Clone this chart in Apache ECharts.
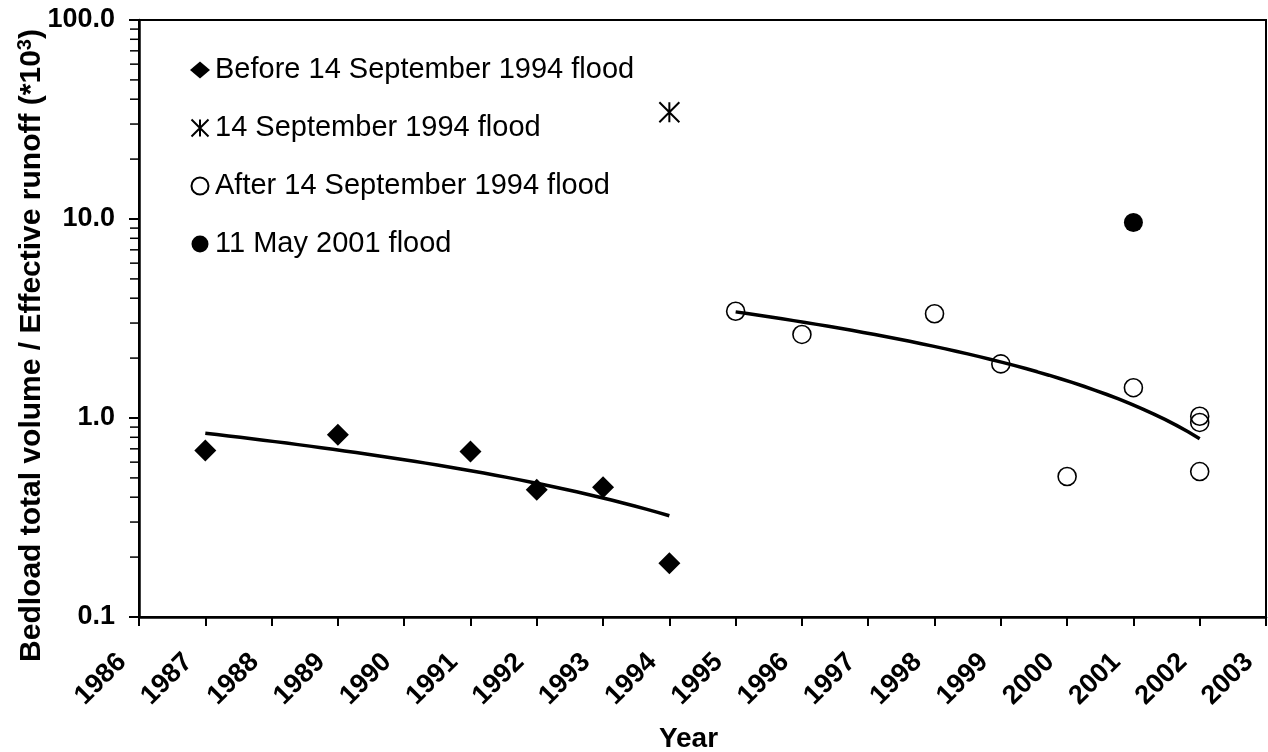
<!DOCTYPE html>
<html>
<head>
<meta charset="utf-8">
<script src="https://cdn.jsdelivr.net/npm/echarts@6/dist/echarts.min.js"></script>
<style>
html,body{margin:0;padding:0;background:#fff;}
#chart{width:1268px;height:752px;}
</style>
</head>
<body>
<div id="chart"></div>
<script>
// ---- data ----
const beforeYears = [1987, 1989, 1991, 1992, 1993, 1994];
const beforeValues = [0.687, 0.824, 0.679, 0.436, 0.449, 0.186];

const floodYears = [1994];
const floodValues = [34.4];

const afterYears = [1995, 1996, 1998, 1999, 2000, 2001, 2002, 2002, 2002];
const afterValues = [3.44, 2.63, 3.34, 1.87, 0.508, 1.42, 1.02, 0.95, 0.538];

const may2001Years = [2001];
const may2001Values = [9.6];

const seriesNames = [
  'Before 14 September 1994 flood',
  '14 September 1994 flood',
  'After 14 September 1994 flood',
  '11 May 2001 flood'
];
const yTickLabels = ['0.1', '1.0', '10.0', '100.0'];
const minorTickValues = [0.2,0.3,0.4,0.5,0.6,0.7,0.8,0.9,2,3,4,5,6,7,8,9,20,30,40,50,60,70,80,90];

// ---- helpers ----
function pairs(xs, ys) { return xs.map((x, i) => [x, ys[i]]); }
// least-squares linear trendline (as in the original spreadsheet)
function linearTrend(xs, ys) {
  const n = xs.length;
  const mx = xs.reduce((a, b) => a + b, 0) / n;
  const my = ys.reduce((a, b) => a + b, 0) / n;
  let sxy = 0, sxx = 0;
  for (let i = 0; i < n; i++) { sxy += (xs[i] - mx) * (ys[i] - my); sxx += (xs[i] - mx) * (xs[i] - mx); }
  const b = sxy / sxx, a = my - b * mx;
  const x0 = Math.min(...xs), x1 = Math.max(...xs);
  const pts = [];
  const steps = 40;
  for (let k = 0; k <= steps; k++) {
    const x = x0 + (x1 - x0) * k / steps;
    pts.push([x, a + b * x]);
  }
  return pts;
}

const FONT = '"Liberation Sans", Arial, sans-serif';
const starPath = 'path://M0,0L20,20M20,0L0,20M10,0L10,20';

const chart = echarts.init(document.getElementById('chart'), null, {renderer: 'canvas'});
chart.setOption({
  animation: false,
  backgroundColor: '#fff',
  textStyle: {fontFamily: FONT, color: '#000'},
  grid: {
    left: 139, right: 2, top: 20, bottom: 135, containLabel: false, outerBoundsMode: 'none',
    show: true, borderColor: '#000', borderWidth: 2, backgroundColor: 'transparent'
  },
  legend: {
    data: seriesNames,
    orient: 'vertical',
    left: 185, top: 50,
    itemWidth: 20, itemHeight: 17,
    itemGap: 28,
    textStyle: {fontFamily: FONT, fontSize: 29, color: '#000', lineHeight: 30},
    selectedMode: false
  },
  xAxis: {
    type: 'value',
    min: 1986, max: 2003, interval: 1,
    name: 'Year',
    nameLocation: 'middle',
    nameGap: 108,
    nameMoveOverlap: false,
    nameTextStyle: {fontFamily: FONT, fontSize: 28, fontWeight: 'bold', color: '#000', padding: [0, 28, 0, 0]},
    axisLine: {lineStyle: {color: '#000', width: 2.5}},
    axisTick: {length: 9, lineStyle: {color: '#000', width: 2}},
    axisLabel: {
      rotate: 45, margin: 24, padding: [0, 24, 0, 0],
      fontFamily: FONT, fontSize: 27, fontWeight: 'bold', color: '#000',
      formatter: v => String(v)
    },
    splitLine: {show: false}
  },
  yAxis: {
    type: 'log', logBase: 10, min: 0.1, max: 100,
    name: 'Bedload total volume / Effective runoff (*10{sup|3})',
    nameLocation: 'middle',
    nameGap: 90,
    nameMoveOverlap: false,
    nameTextStyle: {
      fontFamily: FONT, fontSize: 30, fontWeight: 'bold', color: '#000',
      padding: [0, 54, 0, 0],
      rich: {sup: {fontFamily: FONT, fontSize: 20, fontWeight: 'bold', color: '#000', verticalAlign: 'top', padding: [0, 0, 14, 0]}}
    },
    axisLine: {lineStyle: {color: '#000', width: 2.5}},
    axisTick: {length: 10, lineStyle: {color: '#000', width: 2}},
    axisLabel: {
      margin: 24, fontFamily: FONT, fontSize: 27, fontWeight: 'bold', color: '#000',
      formatter: v => {
        const idx = Math.round(Math.log10(v)) + 1;
        return yTickLabels[idx] !== undefined ? yTickLabels[idx] : '';
      }
    },
    splitLine: {show: false}
  },
  series: [
    {
      name: 'trend-before', type: 'line', data: linearTrend(beforeYears, beforeValues),
      showSymbol: false, symbol: 'none', lineStyle: {color: '#000', width: 3.5}, z: 2, silent: true
    },
    {
      name: 'trend-after', type: 'line', data: linearTrend(afterYears, afterValues),
      showSymbol: false, symbol: 'none', lineStyle: {color: '#000', width: 3.5}, z: 2, silent: true
    },
    {
      name: seriesNames[0], type: 'scatter', data: pairs(beforeYears, beforeValues),
      symbol: 'diamond', symbolSize: [22, 22], itemStyle: {color: '#000', opacity: 1}, z: 3
    },
    {
      name: seriesNames[1], type: 'scatter', data: pairs(floodYears, floodValues),
      symbol: starPath, symbolSize: 20,
      itemStyle: {color: 'rgba(0,0,0,0)', borderColor: '#000', borderWidth: 2, opacity: 1}, z: 3
    },
    {
      name: seriesNames[2], type: 'scatter', data: pairs(afterYears, afterValues),
      symbol: 'circle', symbolSize: 18,
      itemStyle: {color: 'rgba(0,0,0,0)', borderColor: '#000', borderWidth: 1.6, opacity: 1}, z: 3
    },
    {
      name: seriesNames[3], type: 'scatter', data: pairs(may2001Years, may2001Values),
      symbol: 'circle', symbolSize: 19, itemStyle: {color: '#000', opacity: 1}, z: 3
    },
    {
      name: 'minor-ticks', type: 'custom', silent: true, clip: false, z: 4,
      data: minorTickValues.map(v => [1986, v]),
      renderItem: function (params, api) {
        const p = api.coord([api.value(0), api.value(1)]);
        return {
          type: 'line',
          shape: {x1: p[0] - 9, y1: p[1], x2: p[0], y2: p[1]},
          style: {stroke: '#000', lineWidth: 1.5}
        };
      }
    }
  ]
});
</script>
</body>
</html>
